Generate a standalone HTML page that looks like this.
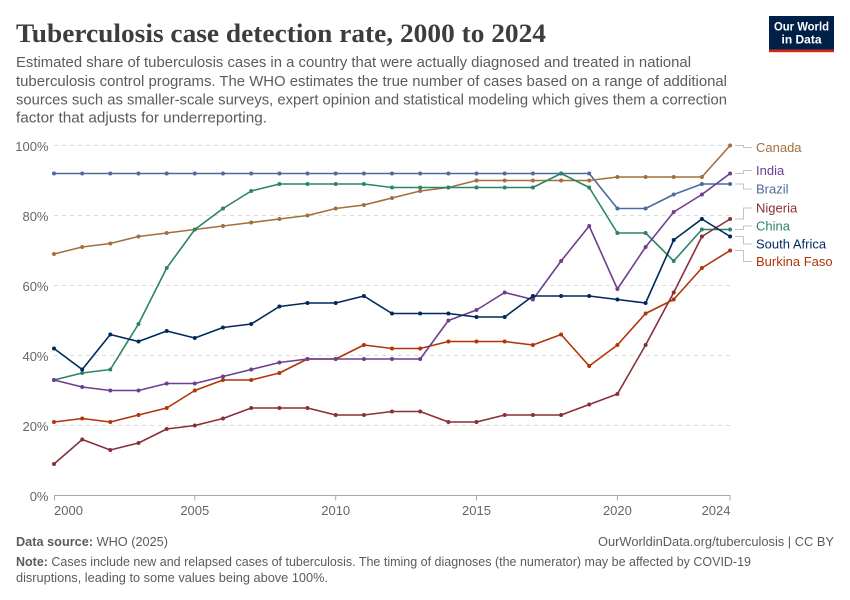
<!DOCTYPE html>
<html>
<head>
<meta charset="utf-8">
<style>
html,body{margin:0;padding:0;background:#fff;}
svg{display:block;font-family:"Liberation Sans",sans-serif;}
</style>
</head>
<body>
<svg width="850" height="600" viewBox="0 0 850 600" xmlns="http://www.w3.org/2000/svg">
<defs>
<marker id="mBr" viewBox="-3 -3 6 6" markerWidth="4.6" markerHeight="4.6" markerUnits="userSpaceOnUse" refX="0" refY="0"><circle r="2.6" fill="#4c6a9c"/></marker>
<marker id="mCa" viewBox="-3 -3 6 6" markerWidth="4.6" markerHeight="4.6" markerUnits="userSpaceOnUse" refX="0" refY="0"><circle r="2.6" fill="#a2703d"/></marker>
<marker id="mCh" viewBox="-3 -3 6 6" markerWidth="4.6" markerHeight="4.6" markerUnits="userSpaceOnUse" refX="0" refY="0"><circle r="2.6" fill="#2c8465"/></marker>
<marker id="mSA" viewBox="-3 -3 6 6" markerWidth="4.6" markerHeight="4.6" markerUnits="userSpaceOnUse" refX="0" refY="0"><circle r="2.6" fill="#00295b"/></marker>
<marker id="mIn" viewBox="-3 -3 6 6" markerWidth="4.6" markerHeight="4.6" markerUnits="userSpaceOnUse" refX="0" refY="0"><circle r="2.6" fill="#6d3e91"/></marker>
<marker id="mBF" viewBox="-3 -3 6 6" markerWidth="4.6" markerHeight="4.6" markerUnits="userSpaceOnUse" refX="0" refY="0"><circle r="2.6" fill="#b13507"/></marker>
<marker id="mNg" viewBox="-3 -3 6 6" markerWidth="4.6" markerHeight="4.6" markerUnits="userSpaceOnUse" refX="0" refY="0"><circle r="2.6" fill="#883039"/></marker>
</defs>

<!-- Title -->
<text x="16" y="42" font-family="'Liberation Serif',serif" font-size="26" font-weight="bold" fill="#3d3d3d" textLength="530" lengthAdjust="spacingAndGlyphs">Tuberculosis case detection rate, 2000 to 2024</text>

<!-- Subtitle -->
<g font-size="14.5" fill="#5b5b5b">
<text x="16" y="67" textLength="675" lengthAdjust="spacingAndGlyphs">Estimated share of tuberculosis cases in a country that were actually diagnosed and treated in national</text>
<text x="16" y="86" textLength="711" lengthAdjust="spacingAndGlyphs">tuberculosis control programs. The WHO estimates the true number of cases based on a range of additional</text>
<text x="16" y="104.5" textLength="711" lengthAdjust="spacingAndGlyphs">sources such as smaller-scale surveys, expert opinion and statistical modeling which gives them a correction</text>
<text x="16" y="122.5" textLength="251" lengthAdjust="spacingAndGlyphs">factor that adjusts for underreporting.</text>
</g>

<!-- Logo -->
<rect x="769" y="16" width="65" height="34" fill="#002147"/>
<rect x="769" y="49.5" width="65" height="2.7" fill="#ce261e"/>
<g fill="#fff" font-size="12" font-weight="bold" text-anchor="middle">
<text x="801.5" y="30.5" textLength="55" lengthAdjust="spacingAndGlyphs">Our World</text>
<text x="801.5" y="43.5" textLength="40" lengthAdjust="spacingAndGlyphs">in Data</text>
</g>

<!-- Grid -->
<g stroke="#dcdcdc" stroke-width="1" stroke-dasharray="4,4">
<line x1="54" y1="145.5" x2="730" y2="145.5"/>
<line x1="54" y1="215.5" x2="730" y2="215.5"/>
<line x1="54" y1="285.5" x2="730" y2="285.5"/>
<line x1="54" y1="355.5" x2="730" y2="355.5"/>
<line x1="54" y1="425.5" x2="730" y2="425.5"/>
</g>

<!-- Y labels -->
<g font-size="13" fill="#666" text-anchor="end">
<text x="48.5" y="151">100%</text>
<text x="48.5" y="221">80%</text>
<text x="48.5" y="291">60%</text>
<text x="48.5" y="361">40%</text>
<text x="48.5" y="431">20%</text>
<text x="48.5" y="501">0%</text>
</g>

<!-- X axis -->
<line x1="54" y1="495.5" x2="730.5" y2="495.5" stroke="#a8a8a8" stroke-width="1"/>
<g stroke="#a8a8a8" stroke-width="1">
<line x1="54.5" y1="495.5" x2="54.5" y2="500.5"/>
<line x1="194.8" y1="495.5" x2="194.8" y2="500.5"/>
<line x1="335.7" y1="495.5" x2="335.7" y2="500.5"/>
<line x1="476.5" y1="495.5" x2="476.5" y2="500.5"/>
<line x1="617.4" y1="495.5" x2="617.4" y2="500.5"/>
<line x1="730" y1="495.5" x2="730" y2="500.5"/>
</g>
<g font-size="13" fill="#666">
<text x="54" y="515">2000</text>
<text x="194.8" y="515" text-anchor="middle">2005</text>
<text x="335.7" y="515" text-anchor="middle">2010</text>
<text x="476.5" y="515" text-anchor="middle">2015</text>
<text x="617.4" y="515" text-anchor="middle">2020</text>
<text x="730.5" y="515" text-anchor="end">2024</text>
</g>

<!-- Series -->
<g fill="none" stroke-width="1.6" stroke-linejoin="round">
<polyline stroke="#4c6a9c" marker-start="url(#mBr)" marker-mid="url(#mBr)" marker-end="url(#mBr)" points="54,173.5 82.2,173.5 110.3,173.5 138.5,173.5 166.7,173.5 194.8,173.5 223,173.5 251.2,173.5 279.4,173.5 307.5,173.5 335.7,173.5 363.9,173.5 392,173.5 420.2,173.5 448.4,173.5 476.5,173.5 504.7,173.5 532.9,173.5 561.1,173.5 589.2,173.5 617.4,208.5 645.6,208.5 673.7,194.5 701.9,184 730.1,184"/>
<polyline stroke="#a2703d" marker-start="url(#mCa)" marker-mid="url(#mCa)" marker-end="url(#mCa)" points="54,254 82.2,247 110.3,243.5 138.5,236.5 166.7,233 194.8,229.5 223,226 251.2,222.5 279.4,219 307.5,215.5 335.7,208.5 363.9,205 392,198 420.2,191 448.4,187.5 476.5,180.5 504.7,180.5 532.9,180.5 561.1,180.5 589.2,180.5 617.4,177 645.6,177 673.7,177 701.9,177 730.1,145.5"/>
<polyline stroke="#2c8465" marker-start="url(#mCh)" marker-mid="url(#mCh)" marker-end="url(#mCh)" points="54,380 82.2,373 110.3,369.5 138.5,324 166.7,268 194.8,229.5 223,208.5 251.2,191 279.4,184 307.5,184 335.7,184 363.9,184 392,187.5 420.2,187.5 448.4,187.5 476.5,187.5 504.7,187.5 532.9,187.5 561.1,173.5 589.2,187.5 617.4,233 645.6,233 673.7,261 701.9,229.5 730.1,229.5"/>
<polyline stroke="#883039" marker-start="url(#mNg)" marker-mid="url(#mNg)" marker-end="url(#mNg)" points="54,464 82.2,439.5 110.3,450 138.5,443 166.7,429 194.8,425.5 223,418.5 251.2,408 279.4,408 307.5,408 335.7,415 363.9,415 392,411.5 420.2,411.5 448.4,422 476.5,422 504.7,415 532.9,415 561.1,415 589.2,404.5 617.4,394 645.6,345 673.7,292.5 701.9,236.5 730.1,219"/>
<polyline stroke="#b13507" marker-start="url(#mBF)" marker-mid="url(#mBF)" marker-end="url(#mBF)" points="54,422 82.2,418.5 110.3,422 138.5,415 166.7,408 194.8,390.5 223,380 251.2,380 279.4,373 307.5,359 335.7,359 363.9,345 392,348.5 420.2,348.5 448.4,341.5 476.5,341.5 504.7,341.5 532.9,345 561.1,334.5 589.2,366 617.4,345 645.6,313.5 673.7,299.5 701.9,268 730.1,250.5"/>
<polyline stroke="#6d3e91" marker-start="url(#mIn)" marker-mid="url(#mIn)" marker-end="url(#mIn)" points="54,380 82.2,387 110.3,390.5 138.5,390.5 166.7,383.5 194.8,383.5 223,376.5 251.2,369.5 279.4,362.5 307.5,359 335.7,359 363.9,359 392,359 420.2,359 448.4,320.5 476.5,310 504.7,292.5 532.9,299.5 561.1,261 589.2,226 617.4,289 645.6,247 673.7,212 701.9,194.5 730.1,173.5"/>
<polyline stroke="#00295b" marker-start="url(#mSA)" marker-mid="url(#mSA)" marker-end="url(#mSA)" points="54,348.5 82.2,369.5 110.3,334.5 138.5,341.5 166.7,331 194.8,338 223,327.5 251.2,324 279.4,306.5 307.5,303 335.7,303 363.9,296 392,313.5 420.2,313.5 448.4,313.5 476.5,317 504.7,317 532.9,296 561.1,296 589.2,296 617.4,299.5 645.6,303 673.7,240 701.9,219 730.1,236.5"/>
</g>

<!-- Legend connectors -->
<g fill="none" stroke="#c4c4c4" stroke-width="1">
<path d="M735,145.5 H743.5 V147.5 H752"/>
<path d="M735,173.5 H743.5 V170.5 H752"/>
<path d="M735,184 H743.5 V189 H752"/>
<path d="M735,219 H743.5 V208 H752"/>
<path d="M735,229.5 H743.5 V226 H752"/>
<path d="M735,236.5 H743.5 V244 H752"/>
<path d="M735,250.5 H743.5 V261.5 H752"/>
</g>

<!-- Legend labels -->
<g font-size="13">
<text x="756" y="152" fill="#a2703d">Canada</text>
<text x="756" y="175" fill="#6d3e91">India</text>
<text x="756" y="193.5" fill="#4c6a9c">Brazil</text>
<text x="756" y="212.5" fill="#883039">Nigeria</text>
<text x="756" y="230.5" fill="#2c8465">China</text>
<text x="756" y="248.5" fill="#00295b">South Africa</text>
<text x="756" y="266" fill="#b13507">Burkina Faso</text>
</g>

<!-- Footer -->
<g font-size="12.5" fill="#5b5b5b">
<text x="16" y="546" textLength="152" lengthAdjust="spacingAndGlyphs"><tspan font-weight="bold">Data source:</tspan> WHO (2025)</text>
<text x="834" y="546" text-anchor="end" textLength="236" lengthAdjust="spacingAndGlyphs">OurWorldinData.org/tuberculosis | CC BY</text>
<text x="16" y="566" textLength="735" lengthAdjust="spacingAndGlyphs"><tspan font-weight="bold">Note:</tspan> Cases include new and relapsed cases of tuberculosis. The timing of diagnoses (the numerator) may be affected by COVID-19</text>
<text x="16" y="582" textLength="312" lengthAdjust="spacingAndGlyphs">disruptions, leading to some values being above 100%.</text>
</g>
</svg>
</body>
</html>
